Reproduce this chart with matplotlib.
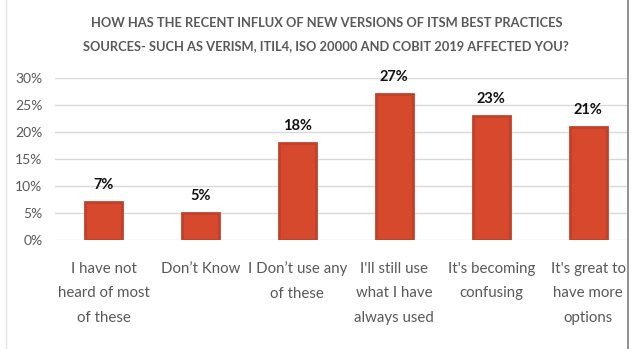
import matplotlib
matplotlib.use("Agg")
import matplotlib.pyplot as plt
from matplotlib import font_manager
from matplotlib.lines import Line2D

# ---- data ----
categories = [
    "I have not\nheard of most\nof these",
    "Don\u2019t Know",
    "I Don\u2019t use any\nof these",
    "I'll still use\nwhat I have\nalways used",
    "It's becoming\nconfusing",
    "It's great to\nhave more\noptions",
]
values = [7, 5, 18, 27, 23, 21]
y_ticks = [0, 5, 10, 15, 20, 25, 30]
title_lines = [
    "HOW HAS THE RECENT INFLUX OF NEW VERSIONS OF ITSM BEST PRACTICES",
    "SOURCES- SUCH AS VERISM, ITIL4, ISO 20000 AND COBIT 2019 AFFECTED YOU?",
]

# ---- font: prefer a narrow sans ----
available = {f.name for f in font_manager.fontManager.ttflist}
family = "DejaVu Sans"
for cand in ["Liberation Sans Narrow", "Lato", "Open Sans", "Liberation Sans"]:
    if cand in available:
        family = cand
        break
plt.rcParams["font.family"] = [family, "DejaVu Sans"]

W, H = 632, 349
fig = plt.figure(figsize=(W / 100, H / 100), dpi=100)
fig.patch.set_facecolor("white")

left_px, right_px, top_px, bottom_px = 55, 627, 78, 240
ax = fig.add_axes([left_px / W, 1 - bottom_px / H,
                   (right_px - left_px) / W, (bottom_px - top_px) / H])

x = list(range(len(categories)))
ax.bar(x, values, width=0.38, color="#D6492C", edgecolor="#C0412A",
       linewidth=2.0, zorder=3)

for xi, v in zip(x, values):
    ax.annotate(f"{v}%", (xi, v), xytext=(0, 7), textcoords="offset points",
                ha="center", va="bottom", fontsize=10.5, fontweight="bold",
                color="#111111", zorder=4)

ax.set_ylim(0, 30)
ax.set_xlim(-0.5, 5.4)
ax.set_yticks(y_ticks)
ax.set_yticklabels([f"{t}%" for t in y_ticks])
ax.set_xticks(x)
ax.set_xticklabels(categories, linespacing=1.97)
ax.tick_params(axis="y", length=0, pad=9, labelsize=10, labelcolor="#595959")
ax.tick_params(axis="x", length=0, pad=15.5, labelsize=10.8, labelcolor="#595959")
ax.grid(axis="y", color="#D9D9D9", linewidth=1.0, zorder=0)
ax.set_axisbelow(True)
for s in ax.spines.values():
    s.set_visible(False)

# chart title
fig.text(327 / W, 1 - 23 / H, title_lines[0], ha="center", va="center",
         fontsize=9.3, fontweight="bold", color="#595959")
fig.text(326 / W, 1 - 46.5 / H, title_lines[1], ha="center", va="center",
         fontsize=9.3, fontweight="bold", color="#595959")

# outer frame edges
fig.add_artist(Line2D([5.5 / W, 5.5 / W], [0, 1], color="#E3E3E3", linewidth=1.0))
fig.add_artist(Line2D([628 / W, 628 / W], [0, 1], color="#7F7F7F", linewidth=1.2))

fig.savefig("out.png", dpi=100, facecolor="white")
